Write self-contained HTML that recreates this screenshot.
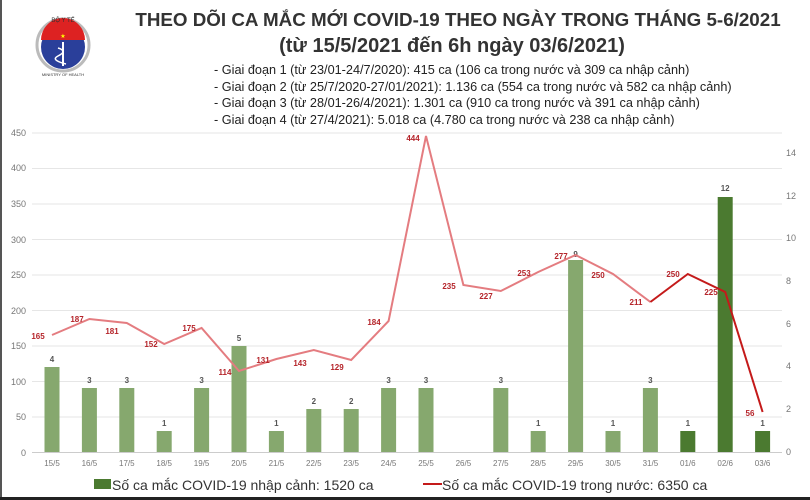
<!DOCTYPE html>
<html><head><meta charset="utf-8"><style>
body{margin:0;background:#fff;}
svg{display:block;font-family:"Liberation Sans",sans-serif;}
</style></head><body>
<svg width="810" height="500" viewBox="0 0 810 500" xmlns="http://www.w3.org/2000/svg">
<rect width="810" height="500" fill="#fff"/>
<rect x="0" y="0" width="2" height="500" fill="#555"/>
<rect x="0" y="497" width="810" height="3" fill="#222"/>
<!-- logo -->
<circle cx="63" cy="45" r="26" fill="none" stroke="#bbb" stroke-width="3"/>
<circle cx="63" cy="47" r="22" fill="#2a3f9a"/>
<path d="M41 40 A22 22 0 0 1 85 40 Z" fill="#d22"/>
<text x="63" y="38" font-size="6" fill="#ff0" text-anchor="middle">★</text>
<path d="M63 42 L63 66" stroke="#fff" stroke-width="2"/>
<path d="M58 48 q10 3 0 8 q-8 4 8 8" stroke="#fff" fill="none" stroke-width="1.5"/>
<text x="63" y="22" font-size="6" fill="#333" text-anchor="middle">BỘ Y TẾ</text>
<text x="63" y="76" font-size="4" fill="#333" text-anchor="middle">MINISTRY OF HEALTH</text>
<!-- title -->
<text x="458" y="26" font-size="18.8" font-weight="bold" fill="#333" text-anchor="middle">THEO DÕI CA MẮC MỚI COVID-19 THEO NGÀY TRONG THÁNG 5-6/2021</text>
<text x="452" y="52" font-size="20" font-weight="bold" fill="#333" text-anchor="middle">(từ 15/5/2021 đến 6h ngày 03/6/2021)</text>
<g font-size="12.7" fill="#222">
<text x="214" y="74">- Giai đoạn 1 (từ 23/01-24/7/2020): 415 ca (106 ca trong nước và 309 ca nhập cảnh)</text>
<text x="214" y="91">- Giai đoạn 2 (từ 25/7/2020-27/01/2021): 1.136 ca (554 ca trong nước và 582 ca nhập cảnh)</text>
<text x="214" y="107">- Giai đoạn 3 (từ 28/01-26/4/2021): 1.301 ca (910 ca trong nước và 391 ca nhập cảnh)</text>
<text x="214" y="124">- Giai đoạn 4 (từ 27/4/2021): 5.018 ca (4.780 ca trong nước và 238 ca nhập cảnh)</text>
</g>
<!-- grid -->
<g stroke="#e6e6e6" stroke-width="1">
<line x1="32" x2="782" y1="133" y2="133"/><line x1="32" x2="782" y1="168.5" y2="168.5"/>
<line x1="32" x2="782" y1="204" y2="204"/><line x1="32" x2="782" y1="239.5" y2="239.5"/>
<line x1="32" x2="782" y1="275" y2="275"/><line x1="32" x2="782" y1="310.5" y2="310.5"/>
<line x1="32" x2="782" y1="346" y2="346"/><line x1="32" x2="782" y1="381.5" y2="381.5"/>
<line x1="32" x2="782" y1="417" y2="417"/>
</g>
<line x1="32" x2="782" y1="452.5" y2="452.5" stroke="#ccc"/>
<g font-size="9" fill="#777" text-anchor="end">
<text x="26" y="136">450</text><text x="26" y="171">400</text><text x="26" y="207">350</text>
<text x="26" y="243">300</text><text x="26" y="278">250</text><text x="26" y="314">200</text>
<text x="26" y="349">150</text><text x="26" y="385">100</text><text x="26" y="420">50</text><text x="26" y="456">0</text>
</g>
<g font-size="9" fill="#777">
<text x="786" y="156">14</text><text x="786" y="199">12</text><text x="786" y="241">10</text>
<text x="786" y="284">8</text><text x="786" y="327">6</text><text x="786" y="369">4</text>
<text x="786" y="412">2</text><text x="786" y="455">0</text>
</g>
<!-- bars -->
<g fill="#86a86e">
<rect x="44.5" y="367" width="15" height="85"/>
<rect x="81.9" y="388" width="15" height="64"/>
<rect x="119.3" y="388" width="15" height="64"/>
<rect x="156.7" y="431" width="15" height="21"/>
<rect x="194.1" y="388" width="15" height="64"/>
<rect x="231.5" y="346" width="15" height="106"/>
<rect x="268.9" y="431" width="15" height="21"/>
<rect x="306.3" y="409" width="15" height="43"/>
<rect x="343.7" y="409" width="15" height="43"/>
<rect x="381.1" y="388" width="15" height="64"/>
<rect x="418.5" y="388" width="15" height="64"/>
<rect x="493.3" y="388" width="15" height="64"/>
<rect x="530.7" y="431" width="15" height="21"/>
<rect x="568.1" y="260" width="15" height="192"/>
<rect x="605.5" y="431" width="15" height="21"/>
<rect x="642.9" y="388" width="15" height="64"/>
</g>
<g fill="#4b7a30">
<rect x="680.3" y="431" width="15" height="21"/>
<rect x="717.7" y="197" width="15" height="255"/>
<rect x="755.1" y="431" width="15" height="21"/>
</g>
<g font-size="8" fill="#555" text-anchor="middle" font-weight="bold">
<text x="52" y="362">4</text><text x="89.4" y="383">3</text><text x="126.8" y="383">3</text>
<text x="164.2" y="426">1</text><text x="201.6" y="383">3</text><text x="239" y="341">5</text>
<text x="276.4" y="426">1</text><text x="313.8" y="404">2</text><text x="351.2" y="404">2</text>
<text x="388.6" y="383">3</text><text x="426" y="383">3</text><text x="500.8" y="383">3</text>
<text x="538.2" y="426">1</text><text x="575.6" y="257">9</text><text x="613" y="426">1</text>
<text x="650.4" y="383">3</text><text x="687.8" y="426">1</text><text x="725.2" y="191">12</text>
<text x="762.6" y="426">1</text>
</g>
<!-- line -->
<polyline fill="none" stroke="#e47c80" stroke-width="2" points="52,335 89.4,319 126.8,323 164.2,344 201.6,328 239,371 276.4,359 313.8,350 351.2,360 388.6,321 426,136 463.4,285 500.8,291 538.2,272 575.6,255 613,274 650.4,302"/>
<polyline fill="none" stroke="#c41a1a" stroke-width="2" points="650.4,302 687.8,274 725.2,292 762.6,412"/>
<g font-size="8" fill="#b5242a" font-weight="bold" text-anchor="middle">
<text x="38" y="339">165</text><text x="77" y="322">187</text><text x="112" y="334">181</text>
<text x="151" y="347">152</text><text x="189" y="331">175</text><text x="225" y="375">114</text>
<text x="263" y="363">131</text><text x="300" y="366">143</text><text x="337" y="370">129</text>
<text x="374" y="325">184</text><text x="413" y="141">444</text><text x="449" y="289">235</text>
<text x="486" y="299">227</text><text x="524" y="276">253</text><text x="561" y="259">277</text>
<text x="598" y="278">250</text><text x="636" y="305">211</text><text x="673" y="277">250</text>
<text x="711" y="295">225</text><text x="750" y="416">56</text>
</g>
<g font-size="8" fill="#777" text-anchor="middle">
<text x="52" y="466">15/5</text><text x="89.4" y="466">16/5</text><text x="126.8" y="466">17/5</text>
<text x="164.2" y="466">18/5</text><text x="201.6" y="466">19/5</text><text x="239" y="466">20/5</text>
<text x="276.4" y="466">21/5</text><text x="313.8" y="466">22/5</text><text x="351.2" y="466">23/5</text>
<text x="388.6" y="466">24/5</text><text x="426" y="466">25/5</text><text x="463.4" y="466">26/5</text>
<text x="500.8" y="466">27/5</text><text x="538.2" y="466">28/5</text><text x="575.6" y="466">29/5</text>
<text x="613" y="466">30/5</text><text x="650.4" y="466">31/5</text><text x="687.8" y="466">01/6</text>
<text x="725.2" y="466">02/6</text><text x="762.6" y="466">03/6</text>
</g>
<!-- legend -->
<rect x="94" y="479" width="17" height="10" fill="#4b7a30"/>
<text x="112" y="490" font-size="14" fill="#333">Số ca mắc COVID-19 nhập cảnh: 1520 ca</text>
<line x1="423" x2="442" y1="484" y2="484" stroke="#c41a1a" stroke-width="2"/>
<text x="442" y="490" font-size="14" fill="#333">Số ca mắc COVID-19 trong nước: 6350 ca</text>
</svg>
</body></html>
